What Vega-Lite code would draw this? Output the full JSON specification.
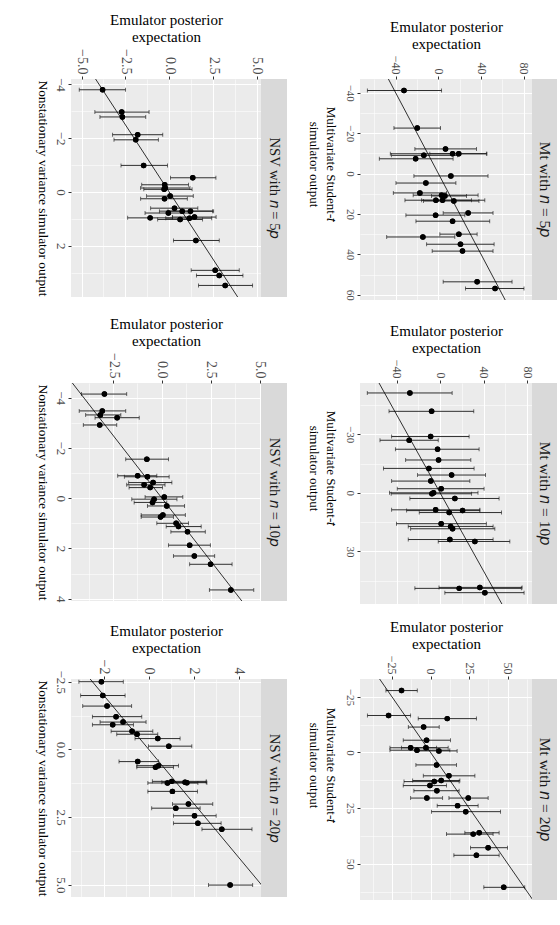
{
"$schema": "https://vega.github.io/schema/vega-lite/v6.json",
"background": "white",
"padding": {"left": 35, "top": 12, "right": 0, "bottom": 0},
"config": {"font": "Liberation Serif", "view": {"stroke": null},
  "axis": {"domain": false, "labelColor": "#4D4D4D", "titleColor": "#000000", "titleFontWeight": "normal", "tickColor": "#333333", "tickSize": 3, "labelPadding": 2, "labelOverlap": false, "labelFlush": false, "titlePadding": 4}},
"datasets": {
"abl": [{"p":"Mt","a":-100,"b":100},{"p":"NSV","a":-10,"b":10}],
"pts": [
{"p":"Mt5","s":-41.1,"v":-32.2,"lo":-66.5,"hi":3.0},
{"p":"Mt5","s":-22.5,"v":-19.8,"lo":-41.6,"hi":2.0},
{"p":"Mt5","s":-12.2,"v":6.7,"lo":-22.0,"hi":35.7},
{"p":"Mt5","s":-9.8,"v":13.3,"lo":-45.0,"hi":45.0},
{"p":"Mt5","s":-9.8,"v":19.1,"lo":-8.0,"hi":45.5},
{"p":"Mt5","s":-9.0,"v":-13.6,"lo":-44.0,"hi":18.0},
{"p":"Mt5","s":-7.3,"v":-21.3,"lo":-55.3,"hi":13.8},
{"p":"Mt5","s":1.2,"v":11.7,"lo":-22.9,"hi":46.5},
{"p":"Mt5","s":4.7,"v":-11.7,"lo":-39.7,"hi":16.4},
{"p":"Mt5","s":9.6,"v":-17.3,"lo":-42.2,"hi":7.7},
{"p":"Mt5","s":10.7,"v":3.0,"lo":-23.6,"hi":37.2},
{"p":"Mt5","s":11.1,"v":6.1,"lo":-6.4,"hi":26.4},
{"p":"Mt5","s":13.2,"v":-2.3,"lo":-31.3,"hi":31.0},
{"p":"Mt5","s":13.2,"v":3.9,"lo":-15.7,"hi":43.5},
{"p":"Mt5","s":13.6,"v":14.5,"lo":-14.0,"hi":38.0},
{"p":"Mt5","s":19.5,"v":27.9,"lo":4.5,"hi":51.2},
{"p":"Mt5","s":20.6,"v":-2.6,"lo":-30.4,"hi":24.8},
{"p":"Mt5","s":23.6,"v":13.3,"lo":-21.0,"hi":48.1},
{"p":"Mt5","s":30.0,"v":19.2,"lo":1.4,"hi":36.3},
{"p":"Mt5","s":31.4,"v":-14.5,"lo":-48.4,"hi":15.4},
{"p":"Mt5","s":35.0,"v":20.7,"lo":-11.0,"hi":52.2},
{"p":"Mt5","s":38.4,"v":22.6,"lo":-5.8,"hi":51.2},
{"p":"Mt5","s":53.6,"v":36.3,"lo":4.5,"hi":69.0},
{"p":"Mt5","s":56.9,"v":53.1,"lo":25.4,"hi":80.2},
{"p":"NSV5","s":-3.80,"v":-3.80,"lo":-5.13,"hi":-2.49},
{"p":"NSV5","s":-2.97,"v":-2.71,"lo":-4.24,"hi":-1.15},
{"p":"NSV5","s":-2.79,"v":-2.67,"lo":-3.95,"hi":-1.34},
{"p":"NSV5","s":-2.13,"v":-1.80,"lo":-3.23,"hi":-0.37},
{"p":"NSV5","s":-1.94,"v":-1.91,"lo":-3.15,"hi":-0.62},
{"p":"NSV5","s":-0.99,"v":-1.46,"lo":-2.75,"hi":-0.10},
{"p":"NSV5","s":-0.53,"v":1.34,"lo":0.07,"hi":2.66},
{"p":"NSV5","s":-0.27,"v":-0.26,"lo":-1.57,"hi":1.10},
{"p":"NSV5","s":-0.15,"v":-0.23,"lo":-1.63,"hi":1.18},
{"p":"NSV5","s":-0.10,"v":-0.29,"lo":-1.45,"hi":1.30},
{"p":"NSV5","s":0.25,"v":-0.27,"lo":-1.63,"hi":1.03},
{"p":"NSV5","s":0.15,"v":0.05,"lo":-1.29,"hi":1.37},
{"p":"NSV5","s":0.60,"v":0.30,"lo":-1.06,"hi":1.63},
{"p":"NSV5","s":0.71,"v":0.74,"lo":-0.56,"hi":2.47},
{"p":"NSV5","s":0.71,"v":1.21,"lo":-0.07,"hi":2.53},
{"p":"NSV5","s":0.78,"v":-0.05,"lo":-1.38,"hi":1.19},
{"p":"NSV5","s":0.96,"v":-1.09,"lo":-2.37,"hi":0.18},
{"p":"NSV5","s":1.02,"v":0.62,"lo":-0.66,"hi":1.90},
{"p":"NSV5","s":0.97,"v":1.15,"lo":-0.20,"hi":2.42},
{"p":"NSV5","s":0.93,"v":1.44,"lo":0.19,"hi":2.67},
{"p":"NSV5","s":1.80,"v":1.52,"lo":0.24,"hi":2.85},
{"p":"NSV5","s":2.91,"v":2.62,"lo":1.25,"hi":3.99},
{"p":"NSV5","s":3.10,"v":2.85,"lo":1.55,"hi":4.20},
{"p":"NSV5","s":3.47,"v":3.19,"lo":1.67,"hi":4.75},
{"p":"Mt10","s":-51.1,"v":-27.8,"lo":-67.0,"hi":11.1},
{"p":"Mt10","s":-41.7,"v":-7.8,"lo":-47.0,"hi":31.0},
{"p":"Mt10","s":-28.8,"v":-8.7,"lo":-44.6,"hi":26.7},
{"p":"Mt10","s":-26.9,"v":-28.4,"lo":-55.3,"hi":-1.7},
{"p":"Mt10","s":-22.3,"v":-2.3,"lo":-41.1,"hi":35.9},
{"p":"Mt10","s":-16.8,"v":-1.4,"lo":-31.7,"hi":28.3},
{"p":"Mt10","s":-12.5,"v":-10.3,"lo":-52.1,"hi":31.3},
{"p":"Mt10","s":-9.1,"v":10.6,"lo":-20.7,"hi":41.8},
{"p":"Mt10","s":-6.0,"v":-8.5,"lo":-44.6,"hi":27.4},
{"p":"Mt10","s":-2.1,"v":1.0,"lo":-39.4,"hi":40.5},
{"p":"Mt10","s":0.0,"v":-6.0,"lo":-46.5,"hi":34.9},
{"p":"Mt10","s":0.5,"v":-7.5,"lo":-45.0,"hi":29.0},
{"p":"Mt10","s":2.9,"v":13.6,"lo":-27.8,"hi":54.3},
{"p":"Mt10","s":8.7,"v":-4.1,"lo":-44.6,"hi":36.6},
{"p":"Mt10","s":10.1,"v":8.4,"lo":-19.2,"hi":56.5},
{"p":"Mt10","s":9.1,"v":20.7,"lo":-30.8,"hi":36.6},
{"p":"Mt10","s":15.8,"v":1.0,"lo":-40.1,"hi":42.6},
{"p":"Mt10","s":17.2,"v":9.7,"lo":-29.3,"hi":48.8},
{"p":"Mt10","s":18.4,"v":11.5,"lo":-27.1,"hi":50.4},
{"p":"Mt10","s":23.9,"v":9.0,"lo":-29.3,"hi":48.8},
{"p":"Mt10","s":24.9,"v":32.0,"lo":-1.7,"hi":64.2},
{"p":"Mt10","s":48.9,"v":17.6,"lo":-23.2,"hi":74.8},
{"p":"Mt10","s":48.4,"v":36.6,"lo":-1.0,"hi":75.5},
{"p":"Mt10","s":51.1,"v":41.2,"lo":4.4,"hi":77.3},
{"p":"NSV10","s":-4.14,"v":-2.94,"lo":-4.11,"hi":-1.80},
{"p":"NSV10","s":-3.47,"v":-3.05,"lo":-4.23,"hi":-1.85},
{"p":"NSV10","s":-3.31,"v":-3.15,"lo":-3.90,"hi":-2.10},
{"p":"NSV10","s":-3.20,"v":-2.29,"lo":-3.42,"hi":-1.16},
{"p":"NSV10","s":-2.91,"v":-3.18,"lo":-4.02,"hi":-2.31},
{"p":"NSV10","s":-1.55,"v":-0.77,"lo":-1.85,"hi":0.34},
{"p":"NSV10","s":-0.89,"v":-1.24,"lo":-2.26,"hi":-0.26},
{"p":"NSV10","s":-0.85,"v":-0.74,"lo":-1.92,"hi":0.37},
{"p":"NSV10","s":-0.62,"v":-0.45,"lo":-1.70,"hi":0.51},
{"p":"NSV10","s":-0.53,"v":-0.91,"lo":-1.80,"hi":0.16},
{"p":"NSV10","s":-0.42,"v":-0.60,"lo":-1.68,"hi":0.03},
{"p":"NSV10","s":-0.05,"v":0.12,"lo":-0.86,"hi":1.07},
{"p":"NSV10","s":0.04,"v":-0.40,"lo":-1.54,"hi":0.77},
{"p":"NSV10","s":0.17,"v":-0.48,"lo":-1.42,"hi":0.25},
{"p":"NSV10","s":0.31,"v":0.25,"lo":-0.74,"hi":1.16},
{"p":"NSV10","s":0.67,"v":0.05,"lo":-1.06,"hi":1.20},
{"p":"NSV10","s":0.75,"v":-0.07,"lo":-1.06,"hi":0.59},
{"p":"NSV10","s":1.00,"v":0.73,"lo":-0.26,"hi":1.36},
{"p":"NSV10","s":1.13,"v":0.85,"lo":0.22,"hi":2.01},
{"p":"NSV10","s":1.34,"v":1.31,"lo":0.46,"hi":2.22},
{"p":"NSV10","s":1.87,"v":1.42,"lo":0.34,"hi":2.48},
{"p":"NSV10","s":2.30,"v":1.66,"lo":0.59,"hi":2.70},
{"p":"NSV10","s":2.63,"v":2.49,"lo":1.42,"hi":3.59},
{"p":"NSV10","s":3.65,"v":3.53,"lo":2.43,"hi":4.70},
{"p":"Mt20","s":-27.8,"v":-18.8,"lo":-28.9,"hi":-8.6},
{"p":"Mt20","s":-16.6,"v":-27.2,"lo":-40.9,"hi":-12.9},
{"p":"Mt20","s":-15.2,"v":10.8,"lo":-8.0,"hi":29.7},
{"p":"Mt20","s":-11.4,"v":-4.5,"lo":-14.4,"hi":5.6},
{"p":"Mt20","s":-5.5,"v":-2.6,"lo":-17.7,"hi":12.9},
{"p":"Mt20","s":-2.1,"v":-12.9,"lo":-26.3,"hi":3.9},
{"p":"Mt20","s":-1.0,"v":-8.8,"lo":-26.3,"hi":12.5},
{"p":"Mt20","s":-2.1,"v":-3.0,"lo":-18.8,"hi":11.4},
{"p":"Mt20","s":-0.7,"v":5.4,"lo":-9.1,"hi":17.2},
{"p":"Mt20","s":5.6,"v":3.9,"lo":-9.5,"hi":16.8},
{"p":"Mt20","s":10.5,"v":11.9,"lo":-4.7,"hi":28.7},
{"p":"Mt20","s":12.6,"v":6.9,"lo":-11.6,"hi":19.0},
{"p":"Mt20","s":13.1,"v":2.4,"lo":-17.2,"hi":18.5},
{"p":"Mt20","s":14.9,"v":-0.4,"lo":-17.7,"hi":10.3},
{"p":"Mt20","s":17.2,"v":4.1,"lo":-10.8,"hi":18.5},
{"p":"Mt20","s":20.5,"v":-2.4,"lo":-12.9,"hi":7.8},
{"p":"Mt20","s":20.5,"v":24.4,"lo":11.9,"hi":37.3},
{"p":"Mt20","s":23.9,"v":17.5,"lo":4.3,"hi":30.8},
{"p":"Mt20","s":26.6,"v":22.8,"lo":0.6,"hi":45.3},
{"p":"Mt20","s":36.1,"v":31.5,"lo":22.2,"hi":44.4},
{"p":"Mt20","s":36.7,"v":27.6,"lo":10.3,"hi":40.5},
{"p":"Mt20","s":42.8,"v":37.3,"lo":25.9,"hi":49.8},
{"p":"Mt20","s":46.2,"v":29.7,"lo":15.1,"hi":44.4},
{"p":"Mt20","s":60.6,"v":47.4,"lo":34.5,"hi":61.0},
{"p":"NSV20","s":-2.50,"v":-2.10,"lo":-3.10,"hi":-1.13},
{"p":"NSV20","s":-1.99,"v":-2.04,"lo":-3.02,"hi":-1.05},
{"p":"NSV20","s":-1.60,"v":-1.85,"lo":-2.93,"hi":-0.76},
{"p":"NSV20","s":-1.21,"v":-1.45,"lo":-2.50,"hi":-0.31},
{"p":"NSV20","s":-1.01,"v":-1.14,"lo":-2.16,"hi":-0.12},
{"p":"NSV20","s":-0.91,"v":-1.60,"lo":-2.50,"hi":-0.68},
{"p":"NSV20","s":-0.67,"v":-0.74,"lo":-1.67,"hi":0.18},
{"p":"NSV20","s":-0.56,"v":-0.52,"lo":-1.42,"hi":0.40},
{"p":"NSV20","s":-0.40,"v":0.40,"lo":-0.61,"hi":1.39},
{"p":"NSV20","s":-0.12,"v":0.89,"lo":-0.01,"hi":1.91},
{"p":"NSV20","s":0.45,"v":-0.49,"lo":-1.32,"hi":0.43},
{"p":"NSV20","s":0.60,"v":0.43,"lo":-0.53,"hi":1.32},
{"p":"NSV20","s":0.66,"v":0.30,"lo":-0.53,"hi":1.10},
{"p":"NSV20","s":1.18,"v":1.02,"lo":0.16,"hi":2.55},
{"p":"NSV20","s":1.24,"v":0.83,"lo":-0.04,"hi":2.18},
{"p":"NSV20","s":1.21,"v":1.61,"lo":0.58,"hi":2.55},
{"p":"NSV20","s":1.23,"v":1.69,"lo":0.73,"hi":2.58},
{"p":"NSV20","s":1.55,"v":1.05,"lo":-0.04,"hi":2.16},
{"p":"NSV20","s":2.02,"v":1.76,"lo":1.05,"hi":2.84},
{"p":"NSV20","s":2.17,"v":1.20,"lo":0.13,"hi":2.28},
{"p":"NSV20","s":2.45,"v":2.03,"lo":1.10,"hi":2.99},
{"p":"NSV20","s":2.73,"v":2.18,"lo":1.10,"hi":3.21},
{"p":"NSV20","s":2.95,"v":3.24,"lo":2.36,"hi":4.58},
{"p":"NSV20","s":5.01,"v":3.61,"lo":2.65,"hi":4.61}
]},
"spacing": 15,
"vconcat": [
{"spacing": 19, "hconcat": [
 {"spacing": 0, "bounds": "flush", "hconcat": [
  {"width": 190, "height": 218, "view": {"fill": "#EBEBEB", "stroke": null},
   "layer": [
    {"data": {"name": "pts"}, "transform": [{"filter": "datum.p === 'NSV5'"}], "mark": {"type": "circle", "size": 30, "color": "#000000", "opacity": 1},
     "encoding": {
      "x": {"field": "v", "type": "quantitative", "scale": {"domain": [-5.6, 5.23], "nice": false, "zero": false},
        "axis": {"orient": "top", "tickCount": 100, "labelOverlap": false, "values": [-5, -3.75, -2.5, -1.25, 0, 1.25, 2.5, 3.75, 5], "format": ".1f", "labelExpr": "indexof([-5,-2.5,0,2.5,5], datum.value) >= 0 ? datum.label : ''", "labelAngle": 90, "labelAlign": "right", "labelBaseline": "middle", "labelFontSize": 14, "title": ["Emulator posterior", "expectation"], "titleFontSize": 15, "titleLineHeight": 17,
          "gridColor": "#FFFFFF", "gridWidth": {"condition": {"test": "indexof([-5,-2.5,0,2.5,5], datum.value) >= 0", "value": 1.1}, "value": 0.55},
          "tickOpacity": {"condition": {"test": "indexof([-5,-2.5,0,2.5,5], datum.value) >= 0", "value": 1}, "value": 0}}},
      "y": {"field": "s", "type": "quantitative", "scale": {"domain": [-4.2, 3.9], "reverse": true, "nice": false, "zero": false},
        "axis": {"orient": "left", "tickCount": 100, "labelOverlap": false, "values": [-4, -3, -2, -1, 0, 1, 2, 3], "format": "d", "labelExpr": "indexof([-4,-2,0,2], datum.value) >= 0 ? datum.label : ''", "labelAngle": 90, "labelAlign": "center", "labelBaseline": "top", "labelFontSize": 13, "title": "Nonstationary variance simulator output", "titleAngle": 90, "titleBaseline": "top", "titleFontSize": 13.4, "titleLineHeight": 17,
          "gridColor": "#FFFFFF", "gridWidth": {"condition": {"test": "indexof([-4,-2,0,2], datum.value) >= 0", "value": 1.1}, "value": 0.55},
          "tickOpacity": {"condition": {"test": "indexof([-4,-2,0,2], datum.value) >= 0", "value": 1}, "value": 0}}}}},
    {"data": {"name": "pts"}, "transform": [{"filter": "datum.p === 'NSV5'"}], "mark": {"type": "rule", "color": "#1A1A1A", "strokeWidth": 0.9}, "encoding": {"x": {"field": "lo", "type": "quantitative"}, "x2": {"field": "hi"}, "y": {"field": "s", "type": "quantitative"}}},
    {"data": {"name": "pts"}, "transform": [{"filter": "datum.p === 'NSV5'"}, {"fold": ["lo", "hi"]}], "mark": {"type": "tick", "orient": "vertical", "size": 4, "thickness": 0.9, "color": "#1A1A1A"}, "encoding": {"x": {"field": "value", "type": "quantitative"}, "y": {"field": "s", "type": "quantitative"}}},
    {"data": {"name": "pts"}, "transform": [{"filter": "datum.p === 'NSV5'"}], "mark": {"type": "circle", "size": 30, "color": "#000000", "opacity": 1}, "encoding": {"x": {"field": "v", "type": "quantitative"}, "y": {"field": "s", "type": "quantitative"}}},
    {"data": {"name": "abl"}, "transform": [{"filter": "datum.p === 'NSV'"}], "mark": {"type": "rule", "clip": true, "color": "#000000", "strokeWidth": 0.8}, "encoding": {"x": {"field": "a", "type": "quantitative"}, "y": {"field": "a", "type": "quantitative"}, "x2": {"field": "b"}, "y2": {"field": "b"}}}
   ]},
  {"width": 26, "height": 218, "view": {"fill": "#D9D9D9", "stroke": null}, "data": {"values": [{"t": "NSV with 𝑛 = 5𝑝"}]}, "mark": {"type": "text", "angle": 90, "fontSize": 14.6, "color": "#1A1A1A"}, "encoding": {"text": {"field": "t"}}}
 ]},
 {"spacing": 0, "bounds": "flush", "hconcat": [
  {"width": 172, "height": 221, "view": {"fill": "#EBEBEB", "stroke": null},
   "layer": [
    {"data": {"name": "pts"}, "transform": [{"filter": "datum.p === 'Mt5'"}], "mark": {"type": "circle", "size": 30, "color": "#000000", "opacity": 1},
     "encoding": {
      "x": {"field": "v", "type": "quantitative", "scale": {"domain": [-73.4, 87.7], "nice": false, "zero": false},
        "axis": {"orient": "top", "tickCount": 100, "labelOverlap": false, "values": [-60, -40, -20, 0, 20, 40, 60, 80], "format": "d", "labelExpr": "indexof([-40,0,40,80], datum.value) >= 0 ? datum.label : ''", "labelAngle": 90, "labelAlign": "right", "labelBaseline": "middle", "labelFontSize": 12, "title": ["Emulator posterior", "expectation"], "titleFontSize": 15, "titleLineHeight": 17,
          "gridColor": "#FFFFFF", "gridWidth": {"condition": {"test": "indexof([-40,0,40,80], datum.value) >= 0", "value": 1.1}, "value": 0.55},
          "tickOpacity": {"condition": {"test": "indexof([-40,0,40,80], datum.value) >= 0", "value": 1}, "value": 0}}},
      "y": {"field": "s", "type": "quantitative", "scale": {"domain": [-46.8, 62.6], "reverse": true, "nice": false, "zero": false},
        "axis": {"orient": "left", "tickCount": 100, "labelOverlap": false, "values": [-40, -30, -20, -10, 0, 10, 20, 30, 40, 50, 60], "format": "d", "labelExpr": "indexof([-40,-20,0,20,40,60], datum.value) >= 0 ? datum.label : ''", "labelAngle": 90, "labelAlign": "center", "labelBaseline": "top", "labelFontSize": 11, "title": ["Multivariate Student-𝑡", "simulator output"], "titleAngle": 90, "titleBaseline": "top", "titleAlign": "center", "titleFontSize": 13, "titleLineHeight": 17, "titleX": -24, "titleY": 85,
          "gridColor": "#FFFFFF", "gridWidth": {"condition": {"test": "indexof([-40,-20,0,20,40,60], datum.value) >= 0", "value": 1.1}, "value": 0.55},
          "tickOpacity": {"condition": {"test": "indexof([-40,-20,0,20,40,60], datum.value) >= 0", "value": 1}, "value": 0}}}}},
    {"data": {"name": "pts"}, "transform": [{"filter": "datum.p === 'Mt5'"}], "mark": {"type": "rule", "color": "#1A1A1A", "strokeWidth": 0.9}, "encoding": {"x": {"field": "lo", "type": "quantitative"}, "x2": {"field": "hi"}, "y": {"field": "s", "type": "quantitative"}}},
    {"data": {"name": "pts"}, "transform": [{"filter": "datum.p === 'Mt5'"}, {"fold": ["lo", "hi"]}], "mark": {"type": "tick", "orient": "vertical", "size": 4, "thickness": 0.9, "color": "#1A1A1A"}, "encoding": {"x": {"field": "value", "type": "quantitative"}, "y": {"field": "s", "type": "quantitative"}}},
    {"data": {"name": "pts"}, "transform": [{"filter": "datum.p === 'Mt5'"}], "mark": {"type": "circle", "size": 30, "color": "#000000", "opacity": 1}, "encoding": {"x": {"field": "v", "type": "quantitative"}, "y": {"field": "s", "type": "quantitative"}}},
    {"data": {"name": "abl"}, "transform": [{"filter": "datum.p === 'Mt'"}], "mark": {"type": "rule", "clip": true, "color": "#000000", "strokeWidth": 0.8}, "encoding": {"x": {"field": "a", "type": "quantitative"}, "y": {"field": "a", "type": "quantitative"}, "x2": {"field": "b"}, "y2": {"field": "b"}}}
   ]},
  {"width": 25, "height": 221, "view": {"fill": "#D9D9D9", "stroke": null}, "data": {"values": [{"t": "Mt with 𝑛 = 5𝑝"}]}, "mark": {"type": "text", "angle": 90, "fontSize": 15.5, "color": "#1A1A1A"}, "encoding": {"text": {"field": "t"}}}
 ]}
]},
{"spacing": 19, "hconcat": [
 {"spacing": 0, "bounds": "flush", "hconcat": [
  {"width": 190, "height": 218, "view": {"fill": "#EBEBEB", "stroke": null},
   "layer": [
    {"data": {"name": "pts"}, "transform": [{"filter": "datum.p === 'NSV10'"}], "mark": {"type": "circle", "size": 30, "color": "#000000", "opacity": 1},
     "encoding": {
      "x": {"field": "v", "type": "quantitative", "scale": {"domain": [-4.65, 5.07], "nice": false, "zero": false},
        "axis": {"orient": "top", "tickCount": 100, "labelOverlap": false, "values": [-3.75, -2.5, -1.25, 0, 1.25, 2.5, 3.75, 5], "format": ".1f", "labelExpr": "indexof([-2.5,0,2.5,5], datum.value) >= 0 ? datum.label : ''", "labelAngle": 90, "labelAlign": "right", "labelBaseline": "middle", "labelFontSize": 14, "title": ["Emulator posterior", "expectation"], "titleFontSize": 15, "titleLineHeight": 17,
          "gridColor": "#FFFFFF", "gridWidth": {"condition": {"test": "indexof([-2.5,0,2.5,5], datum.value) >= 0", "value": 1.1}, "value": 0.55},
          "tickOpacity": {"condition": {"test": "indexof([-2.5,0,2.5,5], datum.value) >= 0", "value": 1}, "value": 0}}},
      "y": {"field": "s", "type": "quantitative", "scale": {"domain": [-4.58, 4.09], "reverse": true, "nice": false, "zero": false},
        "axis": {"orient": "left", "tickCount": 100, "labelOverlap": false, "values": [-4, -3, -2, -1, 0, 1, 2, 3, 4], "format": "d", "labelExpr": "indexof([-4,-2,0,2,4], datum.value) >= 0 ? datum.label : ''", "labelAngle": 90, "labelAlign": "center", "labelBaseline": "top", "labelFontSize": 13, "title": "Nonstationary variance simulator output", "titleAngle": 90, "titleBaseline": "top", "titleFontSize": 13.4, "titleLineHeight": 17,
          "gridColor": "#FFFFFF", "gridWidth": {"condition": {"test": "indexof([-4,-2,0,2,4], datum.value) >= 0", "value": 1.1}, "value": 0.55},
          "tickOpacity": {"condition": {"test": "indexof([-4,-2,0,2,4], datum.value) >= 0", "value": 1}, "value": 0}}}}},
    {"data": {"name": "pts"}, "transform": [{"filter": "datum.p === 'NSV10'"}], "mark": {"type": "rule", "color": "#1A1A1A", "strokeWidth": 0.9}, "encoding": {"x": {"field": "lo", "type": "quantitative"}, "x2": {"field": "hi"}, "y": {"field": "s", "type": "quantitative"}}},
    {"data": {"name": "pts"}, "transform": [{"filter": "datum.p === 'NSV10'"}, {"fold": ["lo", "hi"]}], "mark": {"type": "tick", "orient": "vertical", "size": 4, "thickness": 0.9, "color": "#1A1A1A"}, "encoding": {"x": {"field": "value", "type": "quantitative"}, "y": {"field": "s", "type": "quantitative"}}},
    {"data": {"name": "pts"}, "transform": [{"filter": "datum.p === 'NSV10'"}], "mark": {"type": "circle", "size": 30, "color": "#000000", "opacity": 1}, "encoding": {"x": {"field": "v", "type": "quantitative"}, "y": {"field": "s", "type": "quantitative"}}},
    {"data": {"name": "abl"}, "transform": [{"filter": "datum.p === 'NSV'"}], "mark": {"type": "rule", "clip": true, "color": "#000000", "strokeWidth": 0.8}, "encoding": {"x": {"field": "a", "type": "quantitative"}, "y": {"field": "a", "type": "quantitative"}, "x2": {"field": "b"}, "y2": {"field": "b"}}}
   ]},
  {"width": 26, "height": 218, "view": {"fill": "#D9D9D9", "stroke": null}, "data": {"values": [{"t": "NSV with 𝑛 = 10𝑝"}]}, "mark": {"type": "text", "angle": 90, "fontSize": 14.6, "color": "#1A1A1A"}, "encoding": {"text": {"field": "t"}}}
 ]},
 {"spacing": 0, "bounds": "flush", "hconcat": [
  {"width": 172, "height": 221, "view": {"fill": "#EBEBEB", "stroke": null},
   "layer": [
    {"data": {"name": "pts"}, "transform": [{"filter": "datum.p === 'Mt10'"}], "mark": {"type": "circle", "size": 30, "color": "#000000", "opacity": 1},
     "encoding": {
      "x": {"field": "v", "type": "quantitative", "scale": {"domain": [-73.7, 84.6], "nice": false, "zero": false},
        "axis": {"orient": "top", "tickCount": 100, "labelOverlap": false, "values": [-60, -40, -20, 0, 20, 40, 60, 80], "format": "d", "labelExpr": "indexof([-40,0,40,80], datum.value) >= 0 ? datum.label : ''", "labelAngle": 90, "labelAlign": "right", "labelBaseline": "middle", "labelFontSize": 12, "title": ["Emulator posterior", "expectation"], "titleFontSize": 15, "titleLineHeight": 17,
          "gridColor": "#FFFFFF", "gridWidth": {"condition": {"test": "indexof([-40,0,40,80], datum.value) >= 0", "value": 1.1}, "value": 0.55},
          "tickOpacity": {"condition": {"test": "indexof([-40,0,40,80], datum.value) >= 0", "value": 1}, "value": 0}}},
      "y": {"field": "s", "type": "quantitative", "scale": {"domain": [-56.2, 56.9], "reverse": true, "nice": false, "zero": false},
        "axis": {"orient": "left", "tickCount": 100, "labelOverlap": false, "values": [-45, -30, -15, 0, 15, 30, 45], "format": "d", "labelExpr": "indexof([-30,0,30], datum.value) >= 0 ? datum.label : ''", "labelAngle": 90, "labelAlign": "center", "labelBaseline": "top", "labelFontSize": 11, "title": ["Multivariate Student-𝑡", "simulator output"], "titleAngle": 90, "titleBaseline": "top", "titleAlign": "center", "titleFontSize": 13, "titleLineHeight": 17, "titleX": -24, "titleY": 85,
          "gridColor": "#FFFFFF", "gridWidth": {"condition": {"test": "indexof([-30,0,30], datum.value) >= 0", "value": 1.1}, "value": 0.55},
          "tickOpacity": {"condition": {"test": "indexof([-30,0,30], datum.value) >= 0", "value": 1}, "value": 0}}}}},
    {"data": {"name": "pts"}, "transform": [{"filter": "datum.p === 'Mt10'"}], "mark": {"type": "rule", "color": "#1A1A1A", "strokeWidth": 0.9}, "encoding": {"x": {"field": "lo", "type": "quantitative"}, "x2": {"field": "hi"}, "y": {"field": "s", "type": "quantitative"}}},
    {"data": {"name": "pts"}, "transform": [{"filter": "datum.p === 'Mt10'"}, {"fold": ["lo", "hi"]}], "mark": {"type": "tick", "orient": "vertical", "size": 4, "thickness": 0.9, "color": "#1A1A1A"}, "encoding": {"x": {"field": "value", "type": "quantitative"}, "y": {"field": "s", "type": "quantitative"}}},
    {"data": {"name": "pts"}, "transform": [{"filter": "datum.p === 'Mt10'"}], "mark": {"type": "circle", "size": 30, "color": "#000000", "opacity": 1}, "encoding": {"x": {"field": "v", "type": "quantitative"}, "y": {"field": "s", "type": "quantitative"}}},
    {"data": {"name": "abl"}, "transform": [{"filter": "datum.p === 'Mt'"}], "mark": {"type": "rule", "clip": true, "color": "#000000", "strokeWidth": 0.8}, "encoding": {"x": {"field": "a", "type": "quantitative"}, "y": {"field": "a", "type": "quantitative"}, "x2": {"field": "b"}, "y2": {"field": "b"}}}
   ]},
  {"width": 25, "height": 221, "view": {"fill": "#D9D9D9", "stroke": null}, "data": {"values": [{"t": "Mt with 𝑛 = 10𝑝"}]}, "mark": {"type": "text", "angle": 90, "fontSize": 15.5, "color": "#1A1A1A"}, "encoding": {"text": {"field": "t"}}}
 ]}
]},
{"spacing": 19, "hconcat": [
 {"spacing": 0, "bounds": "flush", "hconcat": [
  {"width": 190, "height": 218, "view": {"fill": "#EBEBEB", "stroke": null},
   "layer": [
    {"data": {"name": "pts"}, "transform": [{"filter": "datum.p === 'NSV20'"}], "mark": {"type": "circle", "size": 30, "color": "#000000", "opacity": 1},
     "encoding": {
      "x": {"field": "v", "type": "quantitative", "scale": {"domain": [-3.45, 4.98], "nice": false, "zero": false},
        "axis": {"orient": "top", "tickCount": 100, "labelOverlap": false, "values": [-3, -2, -1, 0, 1, 2, 3, 4], "format": "d", "labelExpr": "indexof([-2,0,2,4], datum.value) >= 0 ? datum.label : ''", "labelAngle": 90, "labelAlign": "right", "labelBaseline": "middle", "labelFontSize": 14, "title": ["Emulator posterior", "expectation"], "titleFontSize": 15, "titleLineHeight": 17,
          "gridColor": "#FFFFFF", "gridWidth": {"condition": {"test": "indexof([-2,0,2,4], datum.value) >= 0", "value": 1.1}, "value": 0.55},
          "tickOpacity": {"condition": {"test": "indexof([-2,0,2,4], datum.value) >= 0", "value": 1}, "value": 0}}},
      "y": {"field": "s", "type": "quantitative", "scale": {"domain": [-2.6, 5.45], "reverse": true, "nice": false, "zero": false},
        "axis": {"orient": "left", "tickCount": 100, "labelOverlap": false, "values": [-2.5, -1.25, 0, 1.25, 2.5, 3.75, 5], "format": ".1f", "labelExpr": "indexof([-2.5,0,2.5,5], datum.value) >= 0 ? datum.label : ''", "labelAngle": 90, "labelAlign": "center", "labelBaseline": "top", "labelFontSize": 13, "title": "Nonstationary variance simulator output", "titleAngle": 90, "titleBaseline": "top", "titleFontSize": 13.4, "titleLineHeight": 17,
          "gridColor": "#FFFFFF", "gridWidth": {"condition": {"test": "indexof([-2.5,0,2.5,5], datum.value) >= 0", "value": 1.1}, "value": 0.55},
          "tickOpacity": {"condition": {"test": "indexof([-2.5,0,2.5,5], datum.value) >= 0", "value": 1}, "value": 0}}}}},
    {"data": {"name": "pts"}, "transform": [{"filter": "datum.p === 'NSV20'"}], "mark": {"type": "rule", "color": "#1A1A1A", "strokeWidth": 0.9}, "encoding": {"x": {"field": "lo", "type": "quantitative"}, "x2": {"field": "hi"}, "y": {"field": "s", "type": "quantitative"}}},
    {"data": {"name": "pts"}, "transform": [{"filter": "datum.p === 'NSV20'"}, {"fold": ["lo", "hi"]}], "mark": {"type": "tick", "orient": "vertical", "size": 4, "thickness": 0.9, "color": "#1A1A1A"}, "encoding": {"x": {"field": "value", "type": "quantitative"}, "y": {"field": "s", "type": "quantitative"}}},
    {"data": {"name": "pts"}, "transform": [{"filter": "datum.p === 'NSV20'"}], "mark": {"type": "circle", "size": 30, "color": "#000000", "opacity": 1}, "encoding": {"x": {"field": "v", "type": "quantitative"}, "y": {"field": "s", "type": "quantitative"}}},
    {"data": {"name": "abl"}, "transform": [{"filter": "datum.p === 'NSV'"}], "mark": {"type": "rule", "clip": true, "color": "#000000", "strokeWidth": 0.8}, "encoding": {"x": {"field": "a", "type": "quantitative"}, "y": {"field": "a", "type": "quantitative"}, "x2": {"field": "b"}, "y2": {"field": "b"}}}
   ]},
  {"width": 26, "height": 218, "view": {"fill": "#D9D9D9", "stroke": null}, "data": {"values": [{"t": "NSV with 𝑛 = 20𝑝"}]}, "mark": {"type": "text", "angle": 90, "fontSize": 14.6, "color": "#1A1A1A"}, "encoding": {"text": {"field": "t"}}}
 ]},
 {"spacing": 0, "bounds": "flush", "hconcat": [
  {"width": 172, "height": 221, "view": {"fill": "#EBEBEB", "stroke": null},
   "layer": [
    {"data": {"name": "pts"}, "transform": [{"filter": "datum.p === 'Mt20'"}], "mark": {"type": "circle", "size": 30, "color": "#000000", "opacity": 1},
     "encoding": {
      "x": {"field": "v", "type": "quantitative", "scale": {"domain": [-45.7, 65.7], "nice": false, "zero": false},
        "axis": {"orient": "top", "tickCount": 100, "labelOverlap": false, "values": [-37.5, -25, -12.5, 0, 12.5, 25, 37.5, 50, 62.5], "format": "d", "labelExpr": "indexof([-25,0,25,50], datum.value) >= 0 ? datum.label : ''", "labelAngle": 90, "labelAlign": "right", "labelBaseline": "middle", "labelFontSize": 12, "title": ["Emulator posterior", "expectation"], "titleFontSize": 15, "titleLineHeight": 17,
          "gridColor": "#FFFFFF", "gridWidth": {"condition": {"test": "indexof([-25,0,25,50], datum.value) >= 0", "value": 1.1}, "value": 0.55},
          "tickOpacity": {"condition": {"test": "indexof([-25,0,25,50], datum.value) >= 0", "value": 1}, "value": 0}}},
      "y": {"field": "s", "type": "quantitative", "scale": {"domain": [-33, 66.3], "reverse": true, "nice": false, "zero": false},
        "axis": {"orient": "left", "tickCount": 100, "labelOverlap": false, "values": [-25, -12.5, 0, 12.5, 25, 37.5, 50, 62.5], "format": "d", "labelExpr": "indexof([-25,0,25,50], datum.value) >= 0 ? datum.label : ''", "labelAngle": 90, "labelAlign": "center", "labelBaseline": "top", "labelFontSize": 11, "title": ["Multivariate Student-𝑡", "simulator output"], "titleAngle": 90, "titleBaseline": "top", "titleAlign": "center", "titleFontSize": 13, "titleLineHeight": 17, "titleX": -24, "titleY": 86,
          "gridColor": "#FFFFFF", "gridWidth": {"condition": {"test": "indexof([-25,0,25,50], datum.value) >= 0", "value": 1.1}, "value": 0.55},
          "tickOpacity": {"condition": {"test": "indexof([-25,0,25,50], datum.value) >= 0", "value": 1}, "value": 0}}}}},
    {"data": {"name": "pts"}, "transform": [{"filter": "datum.p === 'Mt20'"}], "mark": {"type": "rule", "color": "#1A1A1A", "strokeWidth": 0.9}, "encoding": {"x": {"field": "lo", "type": "quantitative"}, "x2": {"field": "hi"}, "y": {"field": "s", "type": "quantitative"}}},
    {"data": {"name": "pts"}, "transform": [{"filter": "datum.p === 'Mt20'"}, {"fold": ["lo", "hi"]}], "mark": {"type": "tick", "orient": "vertical", "size": 4, "thickness": 0.9, "color": "#1A1A1A"}, "encoding": {"x": {"field": "value", "type": "quantitative"}, "y": {"field": "s", "type": "quantitative"}}},
    {"data": {"name": "pts"}, "transform": [{"filter": "datum.p === 'Mt20'"}], "mark": {"type": "circle", "size": 30, "color": "#000000", "opacity": 1}, "encoding": {"x": {"field": "v", "type": "quantitative"}, "y": {"field": "s", "type": "quantitative"}}},
    {"data": {"name": "abl"}, "transform": [{"filter": "datum.p === 'Mt'"}], "mark": {"type": "rule", "clip": true, "color": "#000000", "strokeWidth": 0.8}, "encoding": {"x": {"field": "a", "type": "quantitative"}, "y": {"field": "a", "type": "quantitative"}, "x2": {"field": "b"}, "y2": {"field": "b"}}}
   ]},
  {"width": 25, "height": 221, "view": {"fill": "#D9D9D9", "stroke": null}, "data": {"values": [{"t": "Mt with 𝑛 = 20𝑝"}]}, "mark": {"type": "text", "angle": 90, "fontSize": 15.5, "color": "#1A1A1A"}, "encoding": {"text": {"field": "t"}}}
 ]}
]}
]
}
